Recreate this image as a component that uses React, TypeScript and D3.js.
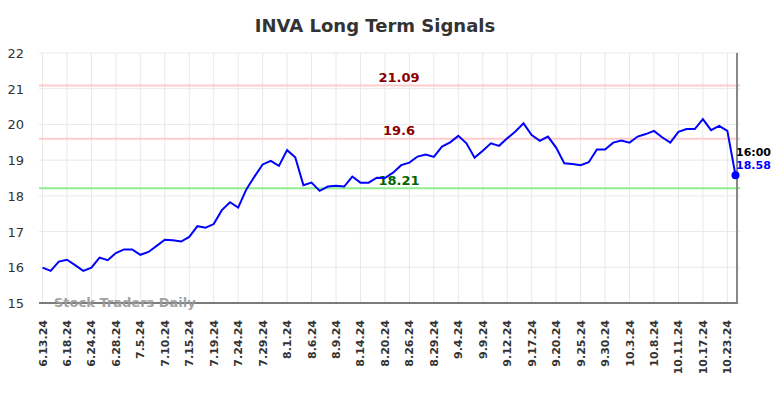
import React from "react";
import * as d3 from "d3";

const tickLabels = ["6.13.24","6.18.24","6.24.24","6.28.24","7.5.24","7.10.24","7.15.24","7.19.24","7.24.24","7.29.24","8.1.24","8.6.24","8.9.24","8.14.24","8.20.24","8.26.24","8.29.24","9.4.24","9.9.24","9.12.24","9.17.24","9.20.24","9.25.24","9.30.24","10.3.24","10.8.24","10.11.24","10.17.24","10.23.24"];

const prices = [
  15.99, 15.9, 16.16, 16.21, 16.06, 15.9, 15.99, 16.27, 16.2, 16.4,
  16.5, 16.5, 16.35, 16.43, 16.6, 16.77, 16.76, 16.72, 16.85, 17.15,
  17.11, 17.21, 17.6, 17.82, 17.67, 18.18, 18.54, 18.88, 18.98, 18.84,
  19.28, 19.08, 18.3, 18.37, 18.14, 18.26, 18.28, 18.26, 18.54, 18.37,
  18.37, 18.51, 18.5, 18.65, 18.86, 18.93, 19.1, 19.16, 19.09, 19.38,
  19.5, 19.68, 19.47, 19.07, 19.26, 19.47, 19.4, 19.61, 19.8, 20.03,
  19.7, 19.54, 19.66, 19.35, 18.91, 18.89, 18.86, 18.94, 19.3, 19.3,
  19.49, 19.55, 19.49, 19.66, 19.73, 19.82, 19.64, 19.49, 19.79, 19.87,
  19.87, 20.15, 19.84, 19.96, 19.82, 18.58
];

const resistanceLevels = [21.09, 19.6];
const supportLevels = [18.21];
const yTicks = [15, 16, 17, 18, 19, 20, 21, 22];

const W = 784;
const H = 398;
const FONT = "DejaVu Sans, sans-serif";

export default function App() {
  const x = d3.scaleLinear().domain([0, prices.length - 1]).range([42.5, 735.5]);
  const y = d3.scaleLinear().domain([15, 22]).range([303, 53]);
  const line = d3
    .line<number>()
    .x((_, i) => x(i))
    .y((d) => y(d));
  const lastI = prices.length - 1;
  const last = prices[lastI];
  const labelX = 399;

  return (
    <svg width={W} height={H} style={{ position: "absolute", left: 0, top: 0, fontFamily: FONT }}>
      <rect width={W} height={H} fill="#fff" />
      <text x={375} y={32} textAnchor="middle" fontSize={18} fontWeight="bold" fill="#333">
        INVA Long Term Signals
      </text>
      {/* grid */}
      {yTicks.map((t) => (
        <line key={"gy" + t} x1={39} x2={740} y1={y(t)} y2={y(t)} stroke="#e8e8e8" strokeWidth={1} />
      ))}
      {tickLabels.map((_, k) => (
        <line key={"gx" + k} x1={x(k * 3)} x2={x(k * 3)} y1={53} y2={303} stroke="#e8e8e8" strokeWidth={1} />
      ))}
      {yTicks.map((t) => (
        <text key={"ty" + t} x={24} y={y(t) + 5} textAnchor="end" fontSize={13} fill="#333">
          {t}
        </text>
      ))}
      {/* levels */}
      {resistanceLevels.map((v) => (
        <g key={"r" + v}>
          <line x1={39} x2={740} y1={y(v)} y2={y(v)} stroke="#ffcccc" strokeWidth={2} />
          <text x={labelX} y={y(v) - 4} textAnchor="middle" fontSize={13} fontWeight="bold" fill="#8b0000">
            {v}
          </text>
        </g>
      ))}
      {supportLevels.map((v) => (
        <g key={"s" + v}>
          <line x1={39} x2={740} y1={y(v)} y2={y(v)} stroke="#90ee90" strokeWidth={2} />
          <text x={labelX} y={y(v) - 3} textAnchor="middle" fontSize={13} fontWeight="bold" fill="#006400">
            {v}
          </text>
        </g>
      ))}
      {/* axes */}
      <line x1={39} x2={738} y1={303} y2={303} stroke="#555" strokeWidth={1.5} />
      <line x1={737} x2={737} y1={53} y2={303} stroke="#888" strokeWidth={2} />
      {tickLabels.map((lab, k) => (
        <text
          key={"tx" + k}
          transform={`translate(${x(k * 3) + 4},320) rotate(-90)`}
          textAnchor="end"
          fontSize={11}
          fontWeight="bold"
          fill="#333"
        >
          {lab}
        </text>
      ))}
      <text x={54} y={307} fontSize={13} fontWeight="bold" fill="#999" opacity={0.9}>
        Stock Traders Daily
      </text>
      <path d={line(prices) || ""} fill="none" stroke="#0000ff" strokeWidth={2} />
      <circle cx={x(lastI)} cy={y(last)} r={4} fill="#0000ff" />
      <text x={736} y={156} fontSize={11} fontWeight="bold" fill="#000">16:00</text>
      <text x={736} y={169} fontSize={11} fontWeight="bold" fill="#0000ff">{last}</text>
    </svg>
  );
}
